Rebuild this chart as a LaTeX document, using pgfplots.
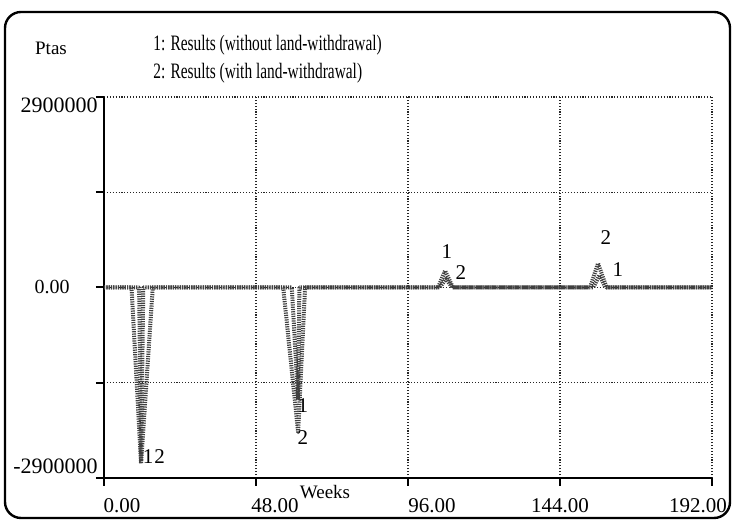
\documentclass[border=0pt]{standalone}
\usepackage{fontspec}
\setmainfont{Liberation Serif}
\usepackage{pgfplots}
\pgfplotsset{compat=1.18}
\begin{document}
\begin{tikzpicture}
\path (-52pt,-22.5pt) rectangle (315pt,239pt);
\begin{axis}[
  at={(0pt,0pt)}, anchor=south west,
  scale only axis, width=304pt, height=190.5pt,
  xmin=0, xmax=192, ymin=-2900000, ymax=2900000,
  axis x line*=bottom, axis y line*=left,
  xtick pos=bottom, ytick pos=left,
  xtick={0,48,96,144,192}, xticklabels={},
  ytick={-2900000,-1450000,0,1450000,2900000}, yticklabels={},
  scaled y ticks=false,
  tick align=outside, major tick length=4pt,
  every tick/.style={black, line width=1pt},
  axis line style={black, line width=1.1pt},
  grid=major,
  grid style={black!85, line width=0.55pt, dash pattern=on 0.55pt off 0.9pt},
  clip=false,
]
% 1: Results (without land-withdrawal)
\addplot[black!75, line width=2pt, line join=round, dash pattern=on 0.6pt off 0.55pt] coordinates {
 (0,0) (11.1,0) (11.7,-2640000) (12.4,0) (59.3,0) (61.3,-1710000) (61.7,0)
 (105.5,0) (107.7,256000) (110.2,0) (154.5,0) (156.5,190000) (158.3,0) (192,0)};
% 2: Results (with land-withdrawal)
\addplot[black!75, line width=2pt, line join=round, dash pattern=on 0.6pt off 0.55pt] coordinates {
 (0,0) (8.7,0) (11.7,-2680000) (15.4,0) (56.6,0) (61.3,-2200000) (63.5,0)
 (106,0) (108,130000) (110,0) (153.5,0) (156,368000) (158.7,0) (192,0)};
\node[font=\fontsize{10.5}{12}\selectfont] at (axis cs:13.9,-2580000) {1};
\node[font=\fontsize{10.5}{12}\selectfont] at (axis cs:17.6,-2580000) {2};
\node[font=\fontsize{10.5}{12}\selectfont] at (axis cs:62.8,-1790000) {1};
\node[font=\fontsize{10.5}{12}\selectfont] at (axis cs:62.8,-2280000) {2};
\node[font=\fontsize{10.5}{12}\selectfont] at (axis cs:108.3,540000) {1};
\node[font=\fontsize{10.5}{12}\selectfont] at (axis cs:112.7,220000) {2};
\node[font=\fontsize{10.5}{12}\selectfont] at (axis cs:158.5,754000) {2};
\node[font=\fontsize{10.5}{12}\selectfont] at (axis cs:162.3,266000) {1};
\end{axis}
% frame
\draw[black, line width=1.2pt, rounded corners=8pt] (-49.5pt,-20pt) rectangle (313pt,233pt);
% labels
\begin{scope}[every node/.style={font=\fontsize{11}{13}\selectfont, inner sep=0pt}]
\node[font=\fontsize{9.5}{12}\selectfont] at (-26.5pt,215pt) {Ptas};
\node[anchor=west, font=\fontsize{11}{13}\selectfont] at (24.5pt,216.5pt) {\scalebox{0.7}[1]{1: Results (without land-withdrawal)}};
\node[anchor=west, font=\fontsize{11}{13}\selectfont] at (24.5pt,202.5pt) {\scalebox{0.7}[1]{2: Results (with land-withdrawal)}};
\node[anchor=east] at (-3pt,186.5pt) {2900000};
\node[anchor=east, font=\fontsize{10}{12}\selectfont] at (-17pt,95.5pt) {0.00};
\node[anchor=east] at (-3pt,6pt) {-2900000};
\node[font=\fontsize{10.5}{12}\selectfont] at (9pt,-14pt) {0.00};
\node[font=\fontsize{10.5}{12}\selectfont] at (85.5pt,-14pt) {48.00};
\node[font=\fontsize{10.5}{12}\selectfont] at (164pt,-14pt) {96.00};
\node[font=\fontsize{10.5}{12}\selectfont] at (228pt,-14pt) {144.00};
\node[font=\fontsize{10.5}{12}\selectfont] at (297pt,-14pt) {192.00};
\node[font=\fontsize{9.5}{12}\selectfont] at (110.5pt,-7pt) {Weeks};
\end{scope}
\end{tikzpicture}
\end{document}
